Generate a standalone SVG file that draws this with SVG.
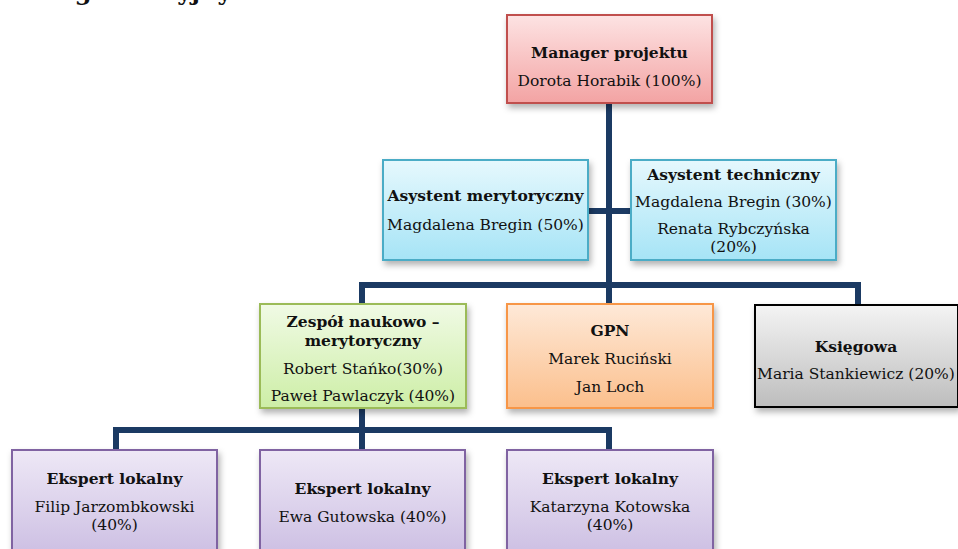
<svg xmlns="http://www.w3.org/2000/svg" width="958" height="549" viewBox="0 0 958 549">
<defs>
<linearGradient id="gRed" x1="0" y1="0" x2="0" y2="1"><stop offset="0" stop-color="#fde3e3"/><stop offset="1" stop-color="#f3a3a3"/></linearGradient>
<linearGradient id="gBlue" x1="0" y1="0" x2="0" y2="1"><stop offset="0" stop-color="#e6f8fd"/><stop offset="1" stop-color="#a6e4f6"/></linearGradient>
<linearGradient id="gGreen" x1="0" y1="0" x2="0" y2="1"><stop offset="0" stop-color="#f0fae5"/><stop offset="1" stop-color="#cdeea6"/></linearGradient>
<linearGradient id="gOrange" x1="0" y1="0" x2="0" y2="1"><stop offset="0" stop-color="#fee9d8"/><stop offset="1" stop-color="#fbbf8c"/></linearGradient>
<linearGradient id="gGray" x1="0" y1="0" x2="0" y2="1"><stop offset="0" stop-color="#f4f4f4"/><stop offset="1" stop-color="#bdbdbd"/></linearGradient>
<linearGradient id="gPurple" x1="0" y1="0" x2="0" y2="1"><stop offset="0" stop-color="#eee8f6"/><stop offset="1" stop-color="#cbbde2"/></linearGradient>
<filter id="sh" x="-10%" y="-10%" width="130%" height="140%"><feDropShadow dx="2" dy="4" stdDeviation="3" flood-color="#000" flood-opacity="0.3"/></filter>
</defs>
<style>
text{font-family:"DejaVu Serif","Liberation Serif",serif;font-size:15.5px;fill:#111;text-anchor:middle}
.b{font-weight:bold}
.box{stroke-width:2;filter:url(#sh)}
.con{fill:none;stroke:#1b3a63;stroke-width:6}
</style>
<text class="b" x="46" y="0" style="font-size:24px;text-anchor:start">organizacyjny</text>
<g id="connectors">
<path class="con" d="M609 103V285"/>
<path class="con" d="M588 211H631"/>
<path class="con" d="M362 304V285H858V305"/>
<path class="con" d="M609 285V304"/>
<path class="con" d="M362 408V430"/>
<path class="con" d="M116 450V430H609V450"/>
<path class="con" d="M362 430V450"/>
</g>
<g id="manager"><rect class="box" x="507" y="15" width="205" height="88" fill="url(#gRed)" stroke="#c0504d"/>
<text class="b" x="609.5" y="58">Manager projektu</text><text x="609.5" y="86">Dorota Horabik (100%)</text></g>
<g id="asystent-merytoryczny"><rect class="box" x="383" y="160" width="205" height="100" fill="url(#gBlue)" stroke="#4bacc6"/>
<text class="b" x="485.5" y="201">Asystent merytoryczny</text><text x="485.5" y="230">Magdalena Bregin (50%)</text></g>
<g id="asystent-techniczny"><rect class="box" x="631" y="160" width="205" height="100" fill="url(#gBlue)" stroke="#4bacc6"/>
<text class="b" x="733.5" y="180">Asystent techniczny</text><text x="733.5" y="207">Magdalena Bregin (30%)</text><text x="733.5" y="234">Renata Rybczyńska</text><text x="733.5" y="252">(20%)</text></g>
<g id="zespol"><rect class="box" x="260" y="304" width="206" height="104" fill="url(#gGreen)" stroke="#9bbb59"/>
<text class="b" x="363" y="327">Zespół naukowo –</text><text class="b" x="363" y="346">merytoryczny</text><text x="363" y="374">Robert Stańko(30%)</text><text x="363" y="401">Paweł Pawlaczyk (40%)</text></g>
<g id="gpn"><rect class="box" x="507" y="304" width="206" height="104" fill="url(#gOrange)" stroke="#f79646"/>
<text class="b" x="610" y="336">GPN</text><text x="610" y="364">Marek Ruciński</text><text x="610" y="392">Jan Loch</text></g>
<g id="ksiegowa"><rect class="box" x="755" y="305" width="203" height="102" fill="url(#gGray)" stroke="#000"/>
<text class="b" x="856" y="352">Księgowa</text><text x="856" y="379">Maria Stankiewicz (20%)</text></g>
<g id="ekspert1"><rect class="box" x="12" y="450" width="205" height="110" fill="url(#gPurple)" stroke="#8064a2"/>
<text class="b" x="114.5" y="484">Ekspert lokalny</text><text x="114.5" y="512">Filip Jarzombkowski</text><text x="114.5" y="530">(40%)</text></g>
<g id="ekspert2"><rect class="box" x="260" y="450" width="205" height="110" fill="url(#gPurple)" stroke="#8064a2"/>
<text class="b" x="362.5" y="494">Ekspert lokalny</text><text x="362.5" y="522">Ewa Gutowska (40%)</text></g>
<g id="ekspert3"><rect class="box" x="507" y="450" width="206" height="110" fill="url(#gPurple)" stroke="#8064a2"/>
<text class="b" x="610" y="484">Ekspert lokalny</text><text x="610" y="512">Katarzyna Kotowska</text><text x="610" y="530">(40%)</text></g>
</svg>
